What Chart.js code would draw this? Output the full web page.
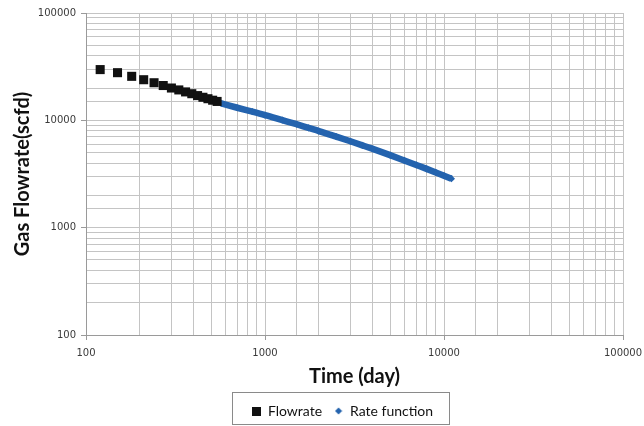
<!DOCTYPE html>
<html>
<head>
<meta charset="utf-8">
<script src="https://cdn.jsdelivr.net/npm/chart.js@4/dist/chart.umd.min.js"></script>
<style>
  html, body { margin: 0; padding: 0; background: #ffffff; }
  #wrap { width: 644px; height: 426px; }
</style>
</head>
<body>
<div id="wrap"><canvas id="chart" width="644" height="426"></canvas></div>
<script>
// Measured production rate (days, scfd)
const flowTime = [120, 150, 180, 210, 240, 270, 300, 330, 360, 390, 420, 450, 480, 510, 540];
const flowRate = [29700, 27800, 25700, 23900, 22400, 21100, 20000, 19200, 18400, 17700, 17000, 16400, 15900, 15400, 15000];

// Fitted rate function (days, scfd)
const fitTime = [570, 700, 850, 1000, 1250, 1500, 1750, 2000, 2500, 3000, 3500, 4000, 5000, 6000, 7000, 8000, 9000, 10000, 11000];
const fitRate = [14400, 13100, 12050, 11200, 10050, 9200, 8500, 7950, 7050, 6380, 5850, 5420, 4740, 4230, 3840, 3530, 3270, 3050, 2860];

const seriesNames = ['Flowrate', 'Rate function'];
const axisTitles = { x: 'Time (day)', y: 'Gas Flowrate(scfd)' };
const axisMin = 100;
const axisMax = 100000;

const BLUE = '#2463ae';
const GRID = '#c4c4c4';
const AXIS = '#9a9a9a';

function isDecade(v) {
  const l = Math.log10(v);
  return Math.abs(l - Math.round(l)) < 1e-9;
}

// Small legend markers
function markerCanvas(kind) {
  const c = document.createElement('canvas');
  if (kind === 'square') {
    c.width = 9; c.height = 9;
    const g = c.getContext('2d');
    g.fillStyle = '#111111';
    g.fillRect(0, 0, 9, 9);
  } else {
    c.width = 8; c.height = 8;
    const g = c.getContext('2d');
    g.fillStyle = BLUE;
    g.beginPath();
    g.moveTo(4, 0.5); g.lineTo(7.5, 4); g.lineTo(4, 7.5); g.lineTo(0.5, 4);
    g.closePath(); g.fill();
  }
  return c;
}
const legendMarkers = [markerCanvas('square'), markerCanvas('diamond')];

const toXY = (xs, ys) => xs.map((x, i) => ({ x: x, y: ys[i] }));

// Nudge the legend left a little and frame it
const legendFrame = {
  id: 'legendFrame',
  afterLayout(chart) {
    const lg = chart.legend;
    if (lg) { lg.left -= 12; lg.right -= 12; }
  },
  afterDraw(chart) {
    const lg = chart.legend;
    if (!lg || !lg.legendHitBoxes || !lg.legendHitBoxes.length) return;
    const boxes = lg.legendHitBoxes;
    let minX = Infinity, maxX = -Infinity;
    boxes.forEach(b => {
      minX = Math.min(minX, b.left);
      maxX = Math.max(maxX, b.left + b.width);
    });
    const ctx = chart.ctx;
    ctx.save();
    ctx.strokeStyle = '#8a8a8a';
    ctx.lineWidth = 1;
    const x0 = Math.round(minX - 20) + 0.5;
    const x1 = Math.round(maxX + 16) + 0.5;
    ctx.strokeRect(x0, 392.5, x1 - x0, 32);
    ctx.restore();
  }
};

const tickFont = { family: 'DejaVu Sans', size: 10 };
const titleFont = { family: 'Lato', size: 20, weight: 'bold' };

new Chart(document.getElementById('chart'), {
  type: 'scatter',
  data: {
    datasets: [
      {
        label: seriesNames[0],
        data: toXY(flowTime, flowRate),
        pointStyle: 'rect',
        pointRadius: 6.4,
        pointHoverRadius: 6.4,
        pointBorderWidth: 0,
        backgroundColor: '#111111',
        borderColor: '#111111',
        showLine: false,
        order: 1
      },
      {
        label: seriesNames[1],
        data: toXY(fitTime, fitRate),
        pointStyle: 'rectRot',
        pointRadius: 3.6,
        pointHoverRadius: 3.6,
        pointBorderWidth: 0,
        backgroundColor: BLUE,
        borderColor: BLUE,
        borderWidth: 6.5,
        showLine: true,
        cubicInterpolationMode: 'monotone',
        order: 2
      }
    ]
  },
  options: {
    responsive: false,
    animation: false,
    layout: { padding: { top: 13, right: 21, bottom: -2, left: 0 } },
    scales: {
      x: {
        type: 'logarithmic',
        min: axisMin,
        max: axisMax,
        afterFit(scale) {
          scale.height = 57;
          scale.paddingLeft = 0;
          scale.paddingRight = 0;
        },
        border: { color: AXIS, width: 1 },
        grid: {
          color: GRID,
          lineWidth: 1,
          tickLength: 5,
          tickColor: ctx => (ctx.tick && isDecade(ctx.tick.value)) ? AXIS : 'rgba(0,0,0,0)'
        },
        ticks: {
          autoSkip: false,
          maxRotation: 0,
          minRotation: 0,
          padding: 7,
          color: '#3a3a3a',
          font: tickFont,
          callback: v => isDecade(v) ? String(v) : ''
        },
        title: {
          display: true,
          text: axisTitles.x,
          color: '#111111',
          font: titleFont,
          padding: { top: 0, bottom: 3 }
        }
      },
      y: {
        type: 'logarithmic',
        min: axisMin,
        max: axisMax,
        afterFit(scale) { scale.width = 86; },
        border: { color: AXIS, width: 1 },
        grid: {
          color: GRID,
          lineWidth: 1,
          tickLength: 5,
          tickColor: ctx => (ctx.tick && isDecade(ctx.tick.value)) ? AXIS : 'rgba(0,0,0,0)'
        },
        ticks: {
          autoSkip: false,
          padding: 5,
          color: '#3a3a3a',
          font: tickFont,
          callback: v => isDecade(v) ? String(v) : ''
        },
        title: {
          display: true,
          text: axisTitles.y,
          color: '#111111',
          font: titleFont,
          padding: { top: 11, bottom: 0 }
        }
      }
    },
    plugins: {
      tooltip: { enabled: false },
      legend: {
        display: true,
        position: 'bottom',
        fullSize: false,
        labels: {
          usePointStyle: true,
          boxHeight: 9,
          boxWidth: 9,
          padding: 12,
          color: '#111111',
          font: { family: 'Lato', size: 14 },
          generateLabels(chart) {
            return chart.data.datasets.map((ds, i) => ({
              text: ds.label,
              datasetIndex: i,
              pointStyle: legendMarkers[i],
              fillStyle: ds.backgroundColor,
              strokeStyle: ds.borderColor,
              lineWidth: 0,
              hidden: false,
              fontColor: '#111111'
            }));
          }
        }
      }
    }
  },
  plugins: [legendFrame]
});
</script>
</body>
</html>
